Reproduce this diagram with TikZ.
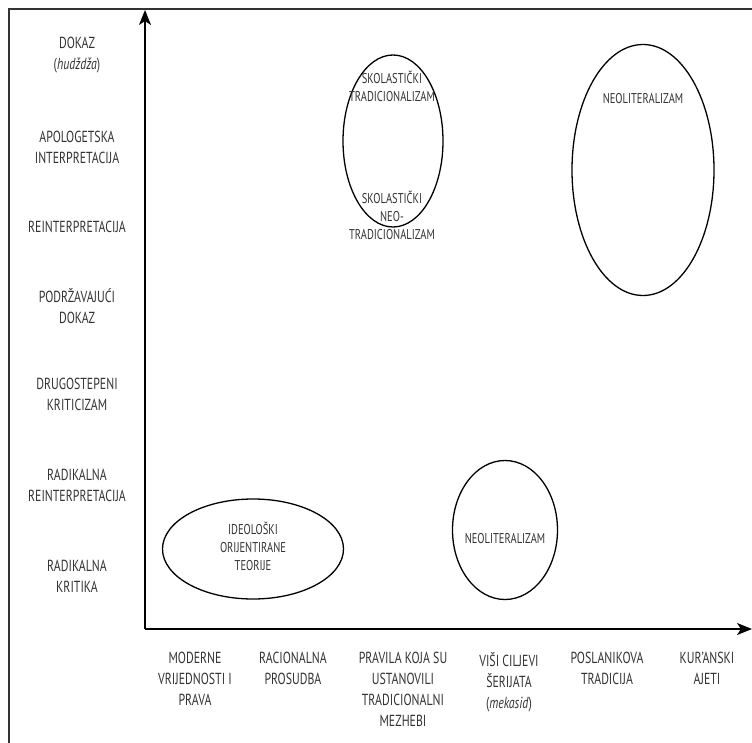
\documentclass[tikz,border=0pt]{standalone}
\usepackage{fontspec}
\setmainfont[FakeStretch=0.74]{PT Sans}
\usepackage{tikz}
\usetikzlibrary{arrows.meta, shapes.geometric}

\definecolor{txtgray}{HTML}{333333}

\begin{document}
\begin{tikzpicture}[x=1pt, y=-1pt,
        axis/.style={line width=1.7pt, -{Stealth[length=15pt, width=12pt, inset=4pt]}},
        oval/.style={ellipse, draw, line width=1.3pt, inner sep=0pt},
        lbl/.style={align=center, text=txtgray, font=\fontsize{16}{21}\selectfont},
        inlbl/.style={align=center, text=txtgray, font=\fontsize{14.2}{18}\selectfont}]
            \useasboundingbox (0,0) rectangle (752,743);
            % frame
            \coordinate (F_1) at (9,743);
            \coordinate (F_2) at (9,9);
            \coordinate (F_3) at (752,9);
            \draw[line width=1.3pt, black!80] (F_1) -- (F_2) -- (F_3);
            % axes
            \coordinate (O) at (145,629);
            \coordinate (Y) at (145,10);
            \coordinate (X) at (752,629);
            \draw[axis] (O) -- (Y);
            \draw[axis] (O) -- (X);
            % levels
            \node[lbl] (dokaz) at (77,55) {DOKAZ\\(\textit{hudždža})};
            \node[lbl] (apolog) at (77,147) {APOLOGETSKA\\INTERPRETACIJA};
            \node[lbl] (reint) at (77,227) {REINTERPRETACIJA};
            \node[lbl] (podrz) at (77,306) {PODRŽAVAJUĆI\\DOKAZ};
            \node[lbl] (drugo) at (77,394) {DRUGOSTEPENI\\KRITICIZAM};
            \node[lbl] (radre) at (77,485) {RADIKALNA\\REINTERPRETACIJA};
            \node[lbl] (radkr) at (77,576) {RADIKALNA\\KRITIKA};
            % sources
            \node[lbl, anchor=north] (moder) at (195,649) {MODERNE\\VRIJEDNOSTI I\\PRAVA};
            \node[lbl, anchor=north] (racio) at (293,649) {RACIONALNA\\PROSUDBA};
            \node[lbl, anchor=north] (prav) at (403,649) {PRAVILA KOJA SU\\USTANOVILI\\TRADICIONALNI\\MEZHEBI};
            \node[lbl, anchor=north] (ciljevi) at (509,649) {VIŠI CILJEVI\\ŠERIJATA\\(\textit{mekasid})};
            \node[lbl, anchor=north] (poslan) at (607,649) {POSLANIKOVA\\TRADICIJA};
            \node[lbl, anchor=north] (kuran) at (707,649) {KUR’ANSKI\\AJETI};
            % groups
            \node[oval, minimum width=100, minimum height=172] (E_1) at (393,141) {};
            \node[oval, minimum width=142, minimum height=251] (E_2) at (643,170) {};
            \node[oval, minimum width=105, minimum height=139] (E_3) at (505,530) {};
            \node[oval, minimum width=181, minimum height=100] (E_4) at (253,549) {};
            \node[inlbl] (skoltr) at (392,86) {SKOLASTIČKI\\TRADICIONALIZAM};
            \node[inlbl] (skolneo) at (392,215) {SKOLASTIČKI\\NEO-\\TRADICIONALIZAM};
            \node[inlbl] (neolit_1) at (643,99) {NEOLITERALIZAM};
            \node[inlbl] (neolit_2) at (505,539) {NEOLITERALIZAM};
            \node[inlbl] (ideol) at (253,546) {IDEOLOŠKI\\ORIJENTIRANE\\TEORIJE};
        \end{tikzpicture}
\end{document}
